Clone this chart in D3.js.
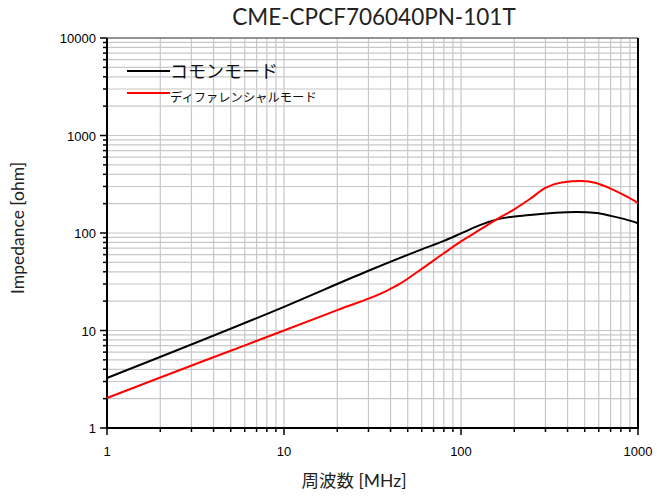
<!DOCTYPE html>
<html>
<head>
<meta charset="utf-8">
<script src="https://d3js.org/d3.v7.min.js"></script>
<style>
  body { margin: 0; background: #fff; }
</style>
</head>
<body>
<div id="chart"></div>
<script>
var width = 657, height = 497;
var margin = {left: 107, right: 19, top: 38, bottom: 69};

var commonFreq = [1, 10, 30, 60, 80, 100, 130, 160, 245, 450, 586, 700, 850, 1000];
var commonZ    = [3.26, 17.5, 41, 68, 83, 99, 122, 138, 153, 164, 160, 150, 138, 126];

var diffFreq = [1, 2, 5, 10, 20, 38, 45, 58, 80, 100, 130, 160, 200, 245, 300, 370, 480, 580, 700, 850, 1000];
var diffZ    = [2.03, 3.3, 6.2, 10, 16.2, 25.5, 30, 41, 62, 82, 110, 139, 175, 223, 290, 330, 341, 326, 285, 240, 203];

var xTicks = [1, 10, 100, 1000];
var yTicks = [1, 10, 100, 1000, 10000];
var legendNames = ["コモンモード", "ディファレンシャルモード"];

var svg = d3.select("#chart").append("svg")
    .attr("width", width).attr("height", height);

var x = d3.scaleLog().domain([1, 1000]).range([margin.left, width - margin.right]);
var y = d3.scaleLog().domain([1, 10000]).range([height - margin.bottom, margin.top]);

function minors(lo, hi) {
  var out = [];
  for (var d = lo; d < hi; d *= 10)
    for (var k = 1; k < 10; k++) out.push(d * k);
  out.push(hi);
  return out;
}
var xMinor = minors(1, 1000), yMinor = minors(1, 10000);

// grid
svg.append("g").selectAll("line").data(xMinor).enter().append("line")
  .attr("x1", d => x(d)).attr("x2", d => x(d))
  .attr("y1", y(1)).attr("y2", y(10000))
  .attr("stroke", "#c8c8c8").attr("stroke-width", 1.2);
svg.append("g").selectAll("line").data(yMinor).enter().append("line")
  .attr("y1", d => y(d)).attr("y2", d => y(d))
  .attr("x1", x(1)).attr("x2", x(1000))
  .attr("stroke", "#c8c8c8").attr("stroke-width", 1.2);

// frame
svg.append("line").attr("x1", x(1)).attr("x2", x(1000)).attr("y1", y(10000)).attr("y2", y(10000))
  .attr("stroke", "#444").attr("stroke-width", 1.2);
svg.append("line").attr("x1", x(1000)).attr("x2", x(1000)).attr("y1", y(10000)).attr("y2", y(1))
  .attr("stroke", "#000").attr("stroke-width", 2);

// axes
var xAxis = svg.append("g").attr("transform", "translate(0," + y(1) + ")");
xAxis.selectAll(".minor").data(xMinor).enter().append("line")
  .attr("x1", d => x(d)).attr("x2", d => x(d)).attr("y1", 0)
  .attr("y2", d => xTicks.indexOf(d) >= 0 ? 7 : 4)
  .attr("stroke", "#000").attr("stroke-width", 1.5);
xAxis.append("line").attr("x1", x(1) - 1).attr("x2", x(1000) + 1)
  .attr("stroke", "#000").attr("stroke-width", 2);
xAxis.selectAll("text").data(xTicks).enter().append("text")
  .attr("x", d => x(d)).attr("y", 28)
  .attr("text-anchor", "middle")
  .style("font-family", "Liberation Sans, Arial, sans-serif").style("font-size", "13px")
  .text(d => d);

var yAxis = svg.append("g").attr("transform", "translate(" + x(1) + ",0)");
yAxis.selectAll(".minor").data(yMinor).enter().append("line")
  .attr("y1", d => y(d)).attr("y2", d => y(d)).attr("x1", 0)
  .attr("x2", d => yTicks.indexOf(d) >= 0 ? -7 : -4)
  .attr("stroke", "#000").attr("stroke-width", 1.5);
yAxis.append("line").attr("y1", y(1) + 1).attr("y2", y(10000))
  .attr("stroke", "#000").attr("stroke-width", 2);
yAxis.selectAll("text").data(yTicks).enter().append("text")
  .attr("x", -11).attr("y", d => y(d) + 5)
  .attr("text-anchor", "end")
  .style("font-family", "Liberation Sans, Arial, sans-serif").style("font-size", "13px")
  .text(d => d);

// titles
svg.append("text").attr("x", 374).attr("y", 25).attr("text-anchor", "middle")
  .style("font-family", "Lato, sans-serif").style("font-size", "22.5px").attr("fill", "#222")
  .text("CME-CPCF706040PN-101T");
svg.append("text").attr("x", 354).attr("y", 487).attr("text-anchor", "middle")
  .style("font-family", "Lato, 'Noto Sans CJK JP', sans-serif").style("font-size", "17.5px").attr("fill", "#222")
  .text("周波数 [MHz]");
svg.append("text").attr("transform", "translate(24,228) rotate(-90)").attr("text-anchor", "middle")
  .style("font-family", "Lato, sans-serif").style("font-size", "17.5px").attr("fill", "#222")
  .text("Impedance [ohm]");

// curves
var line = d3.line().x(d => x(d[0])).y(d => y(d[1])).curve(d3.curveMonotoneX);
svg.append("path").datum(d3.zip(commonFreq, commonZ))
  .attr("d", line).attr("fill", "none").attr("stroke", "#000").attr("stroke-width", 2);
svg.append("path").datum(d3.zip(diffFreq, diffZ))
  .attr("d", line).attr("fill", "none").attr("stroke", "#f00").attr("stroke-width", 2);

// legend
var legend = svg.append("g");
legend.append("line").attr("x1", 127).attr("x2", 170).attr("y1", 71).attr("y2", 71)
  .attr("stroke", "#000").attr("stroke-width", 2);
legend.append("text").attr("x", 170).attr("y", 78)
  .style("font-family", "'Noto Sans CJK JP', sans-serif").style("font-size", "18px").attr("fill", "#111")
  .text(legendNames[0]);
legend.append("line").attr("x1", 127).attr("x2", 170).attr("y1", 93).attr("y2", 93)
  .attr("stroke", "#f00").attr("stroke-width", 2);
legend.append("text").attr("x", 170).attr("y", 102)
  .style("font-family", "'Noto Sans CJK JP', sans-serif").style("font-size", "12.3px").attr("fill", "#111")
  .text(legendNames[1]);
</script>
</body>
</html>
